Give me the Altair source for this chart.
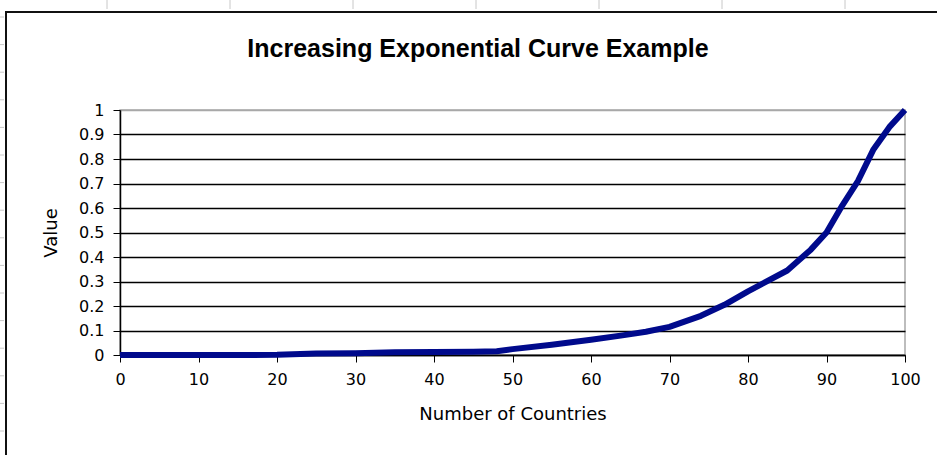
import altair as alt
import numpy as np
import pandas as pd

# Curve values: number of countries vs. value
countries = [0, 5, 10, 15, 20, 25, 30, 35, 40, 45, 48, 50, 55, 60, 64, 67, 70,
             74, 77, 80, 85, 88, 90, 92, 94, 96, 98, 100]
values = [0, 0, 0, 0, 0.001, 0.006, 0.007, 0.011, 0.012, 0.013, 0.015, 0.024,
          0.042, 0.062, 0.08, 0.095, 0.115, 0.16, 0.205, 0.26, 0.345, 0.43,
          0.5, 0.61, 0.71, 0.84, 0.93, 1.0]
x_ticks = [0, 10, 20, 30, 40, 50, 60, 70, 80, 90, 100]
y_ticks = [0, 0.1, 0.2, 0.3, 0.4, 0.5, 0.6, 0.7, 0.8, 0.9, 1]
chart_title = "Increasing Exponential Curve Example"

df = pd.DataFrame({"countries": countries, "value": values})

FONT = "DejaVu Sans"
LEFT, TOP = 120, 110          # plot-area origin inside the page
W, H = 785, 245

curve = alt.Chart(df).mark_line(color="#000a8c", strokeWidth=6, strokeJoin="round").encode(
    x=alt.X(
        "countries:Q",
        scale=alt.Scale(domain=[0, 100], nice=False, zero=False),
        axis=alt.Axis(
            values=x_ticks, title="Number of Countries", grid=False, labelFlush=False,
            domainColor="#000", domainWidth=1.5, tickColor="#000", tickSize=7,
            labelPadding=9, labelFont=FONT, labelFontSize=16, labelColor="#000",
            titleFont=FONT, titleFontSize=18, titleFontWeight="normal",
            titleColor="#000", titlePadding=18,
        ),
    ),
    y=alt.Y(
        "value:Q",
        scale=alt.Scale(domain=[0, 1], nice=False),
        axis=alt.Axis(
            values=y_ticks, format="~g", title="Value", labelFlush=False,
            grid=True, gridWidth=1.5,
            gridColor={"condition": {"test": "datum.value >= 1", "value": "#a8a8a8"},
                       "value": "#000"},
            domainColor="#000", domainWidth=1.5, tickColor="#000", tickSize=7,
            labelPadding=9, labelFont=FONT, labelFontSize=16, labelColor="#000",
            titleFont=FONT, titleFontSize=18, titleFontWeight="normal",
            titleColor="#000", titlePadding=18,
        ),
    ),
)

# Chart title, centred over the whole chart object
title_text = alt.Chart().mark_text(
    text=chart_title, font="Liberation Sans", fontSize=25, fontWeight="bold",
    color="#000", align="center", baseline="middle",
).encode(x=alt.value(478 - LEFT), y=alt.value(49 - TOP))

# Chart-object border (left and top edges)
left_edge = alt.Chart().mark_rule(color="#111", strokeWidth=2).encode(
    x=alt.value(6 - LEFT), y=alt.value(12 - TOP), y2=alt.value(455 - TOP)
)
top_edge = alt.Chart().mark_rule(color="#111", strokeWidth=2).encode(
    x=alt.value(5 - LEFT), x2=alt.value(937 - LEFT), y=alt.value(12 - TOP)
)

# Faint worksheet column / row boundary marks around the chart object
sheet_marks = []
for cx in np.arange(107, 937, 123):
    sheet_marks.append(
        alt.Chart().mark_rule(color="#c8c8c8", strokeWidth=1).encode(
            x=alt.value(float(cx) - LEFT), y=alt.value(0 - TOP), y2=alt.value(9 - TOP)
        )
    )
for ry in np.arange(17, 455, 27.6):
    sheet_marks.append(
        alt.Chart().mark_rule(color="#c8c8c8", strokeWidth=1).encode(
            x=alt.value(0 - LEFT), x2=alt.value(4 - LEFT), y=alt.value(float(ry) - TOP)
        )
    )

chart = alt.layer(curve, title_text, left_edge, top_edge, *sheet_marks).properties(
    width=W,
    height=H,
    autosize=alt.AutoSizeParams(type="none"),
    padding={"left": LEFT, "top": TOP, "right": 937 - LEFT - W, "bottom": 455 - TOP - H},
    background="white",
).configure_view(stroke="#a8a8a8", strokeWidth=1.5)

chart.save("out.html", embed_options={"renderer": "svg", "actions": False})
